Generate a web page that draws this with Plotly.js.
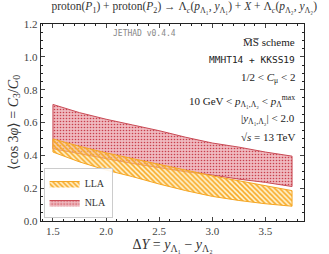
<!DOCTYPE html>
<html><head><meta charset="utf-8">
<script src="https://cdn.plot.ly/plotly-3.0.1.min.js"></script>
<style>body{margin:0;padding:0;background:#fff}</style>
</head><body><div id="chart" style="width:329px;height:254px"></div>
<script>
const deltaY = [1.5, 1.75, 2.0, 2.25, 2.5, 2.75, 3.0, 3.25, 3.5, 3.75];
const llaLow  = [0.42, 0.36, 0.31, 0.27, 0.225, 0.185, 0.15, 0.125, 0.105, 0.09];
const llaHigh = [0.50, 0.455, 0.415, 0.38, 0.345, 0.31, 0.275, 0.245, 0.215, 0.185];
const nlaLow  = [0.44, 0.41, 0.38, 0.35, 0.325, 0.30, 0.28, 0.255, 0.235, 0.21];
const nlaHigh = [0.71, 0.66, 0.62, 0.585, 0.55, 0.51, 0.475, 0.45, 0.42, 0.395];
const yTicks = [0.0, 0.2, 0.4, 0.6, 0.8, 1.0, 1.2];
const yTickLabels = ["0.0", "0.2", "0.4", "0.6", "0.8", "1.0", "1.2"];
const xTicks = [1.5, 2.0, 2.5, 3.0, 3.5];
const xTickLabels = ["1.5", "2.0", "2.5", "3.0", "3.5"];

const serif = "Liberation Serif, DejaVu Serif, serif";
const mono = "DejaVu Sans Mono, Liberation Mono, monospace";

function band(low, high, name, line, pattern) {
  const x = deltaY.concat(deltaY.slice().reverse());
  const y = low.concat(high.slice().reverse());
  x.push(deltaY[0]); y.push(low[0]);
  return {x: x, y: y, type: 'scatter', mode: 'lines', fill: 'toself', name: name,
    line: {color: line, width: 1}, fillcolor: pattern.bgcolor, fillpattern: pattern, hoverinfo: 'skip'};
}

const traces = [
  band(nlaLow, nlaHigh, 'NLA', '#c94a55', {shape: '.', fgcolor: '#c8404c', bgcolor: 'rgba(238,178,184,0.9)', size: 3, solidity: 0.22}),
  band(llaLow, llaHigh, 'LLA', '#f5a623', {shape: '\\', fgcolor: '#f7a51c', bgcolor: 'rgba(255,236,170,0.5)', size: 3.5, solidity: 0.45})
];

const ann = [];
function addText(text, x, y, opts) {
  ann.push(Object.assign({text: text, xref: 'paper', yref: 'paper', x: x, y: y, showarrow: false,
    xanchor: 'right', yanchor: 'middle', font: {family: serif, size: 11, color: '#222'}}, opts || {}));
}
addText('JETHAD v0.4.4', 0.395, 0.95, {xanchor: 'center', font: {family: mono, size: 8, color: '#888'}});
addText('M\u0305S\u0305 scheme', 0.975, 0.91);
addText('MMHT14 + KKSS19', 0.975, 0.82, {font: {family: mono, size: 9.5, color: '#222'}});
addText('1/2 &lt; <i>C</i><sub>μ</sub> &lt; 2', 0.975, 0.725);
addText('10 GeV &lt; <i>p</i><sub>Λ₁,Λ₂</sub> &lt; <i>p</i><sub>Λ</sub><sup>max</sup>', 0.975, 0.61);
addText('|<i>y</i><sub>Λ₁,Λ₂</sub>| &lt; 2.0', 0.975, 0.52);
addText('√<i>s</i> = 13 TeV', 0.975, 0.425);

const layout = {
  width: 329, height: 254,
  margin: {l: 41, r: 25, t: 24, b: 33},
  paper_bgcolor: '#fff', plot_bgcolor: '#fff',
  font: {family: serif, size: 11, color: '#222'},
  title: {text: 'proton(<i>P</i><sub>1</sub>) + proton(<i>P</i><sub>2</sub>) → Λ<sub><i>c</i></sub>(<i>p</i><sub>Λ₁</sub>, <i>y</i><sub>Λ₁</sub>) + <i>X</i> + Λ<sub><i>c</i></sub>(<i>p</i><sub>Λ₂</sub>, <i>y</i><sub>Λ₂</sub>)',
    font: {family: serif, size: 11.5, color: '#333', weight: 400}, x: 0.56, xanchor: 'center', y: 0.975, yanchor: 'middle'},
  xaxis: {range: [1.3875, 3.8625], tickvals: xTicks, ticktext: xTickLabels, ticks: 'inside', ticklen: 4,
    mirror: 'allticks', showline: true, linecolor: '#222', linewidth: 1.2, showgrid: false, zeroline: false,
    tickfont: {family: serif, size: 11, color: '#444'},
    minor: {dtick: 0.1, ticks: 'inside', ticklen: 2, tickcolor: '#222'},
    title: {text: 'Δ<i>Y</i> = <i>y</i><sub>Λ₁</sub> − <i>y</i><sub>Λ₂</sub>', font: {family: serif, size: 14, color: '#333'}, standoff: 4}},
  yaxis: {range: [0, 1.2], tickvals: yTicks, ticktext: yTickLabels, ticks: 'inside', ticklen: 4,
    mirror: 'allticks', showline: true, linecolor: '#222', linewidth: 1.2, showgrid: false, zeroline: false,
    tickfont: {family: serif, size: 11, color: '#444'},
    minor: {dtick: 0.05, ticks: 'inside', ticklen: 2, tickcolor: '#222'},
    title: {text: '⟨cos 3<i>φ</i>⟩ = <i>C</i><sub>3</sub>/<i>C</i><sub>0</sub>', font: {family: serif, size: 14, color: '#333'}, standoff: 2}},
  showlegend: true,
  legend: {x: 0.01, y: 0.015, xanchor: 'left', yanchor: 'bottom', traceorder: 'reversed',
    bgcolor: 'rgba(255,255,255,0.9)', bordercolor: '#ccc', borderwidth: 1, tracegroupgap: 0,
    font: {family: serif, size: 10, color: '#333'}, itemwidth: 30},
  annotations: ann
};

Plotly.newPlot('chart', traces, layout, {staticPlot: true, displayModeBar: false});
</script></body></html>
